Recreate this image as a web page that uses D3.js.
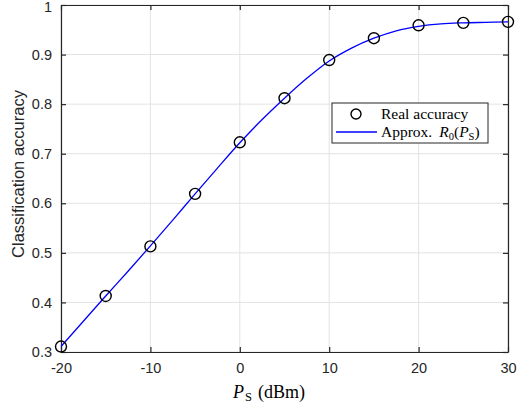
<!DOCTYPE html>
<html>
<head>
<meta charset="utf-8">
<script src="https://d3js.org/d3.v7.min.js"></script>
<style>
  body { margin: 0; background: #fff; }
  svg { display: block; }
  .tick text { font-family: "Liberation Sans", Arial, sans-serif; font-size: 14.5px; fill: #262626; }
</style>
</head>
<body>
<svg id="chart" width="517" height="415"></svg>
<script>
// measured points (P_S in dBm, accuracy)
var powerDbm = [-20, -15, -10, -5, 0, 5, 10, 15, 20, 25, 30];
var realAcc = [0.311, 0.413, 0.513, 0.619, 0.723, 0.812, 0.889, 0.933, 0.959, 0.964, 0.966];

// approximation curve
var approxX = [-20, -17.5, -15, -12.5, -10, -7.5, -5, -2.5, 0, 2.5, 5, 7.5, 10, 12.5, 15, 17.5, 20, 22.5, 25, 27.5, 30];
var approxY = [0.311, 0.362, 0.413, 0.463, 0.514, 0.566, 0.619, 0.671, 0.722, 0.769, 0.812, 0.852, 0.887, 0.913, 0.933, 0.948, 0.957, 0.962, 0.964, 0.965, 0.966];

var xTicks = [-20, -10, 0, 10, 20, 30];
var yTicks = [0.3, 0.4, 0.5, 0.6, 0.7, 0.8, 0.9, 1];

var serif = "'Liberation Serif', 'DejaVu Serif', serif";

var margin = {top: 5, right: 9, bottom: 63, left: 61},
    width = 517 - margin.left - margin.right,
    height = 415 - margin.top - margin.bottom;

var svg = d3.select("#chart");
var g = svg.append("g")
    .attr("transform", "translate(" + margin.left + "," + margin.top + ")");

var x = d3.scaleLinear().domain([-20, 30]).range([0, width]);
var y = d3.scaleLinear().domain([0.3, 1]).range([height, 0]);

// grid
g.selectAll(".vgrid").data(xTicks).enter().append("line")
    .attr("x1", d => x(d)).attr("x2", d => x(d))
    .attr("y1", 0).attr("y2", height)
    .attr("stroke", "#e3e3e3").attr("stroke-width", 1);
g.selectAll(".hgrid").data(yTicks).enter().append("line")
    .attr("y1", d => y(d)).attr("y2", d => y(d))
    .attr("x1", 0).attr("x2", width)
    .attr("stroke", "#e3e3e3").attr("stroke-width", 1);

// axes, ticks pointing inward
var fmtX = d => d;
var fmtY = d => d === 1 ? "1" : d3.format(".1f")(d);

g.append("g").attr("transform", "translate(0," + height + ")")
    .call(d3.axisBottom(x).tickValues(xTicks).tickFormat(fmtX).tickSizeInner(-5).tickSizeOuter(0).tickPadding(11));
var yAx = g.append("g")
    .call(d3.axisLeft(y).tickValues(yTicks).tickFormat(fmtY).tickSizeInner(-5).tickSizeOuter(0).tickPadding(9));
// keep the top label inside the picture
yAx.selectAll(".tick text").filter(d => d === 1).attr("y", 2);
g.append("g")
    .call(d3.axisTop(x).tickValues(xTicks).tickFormat("").tickSizeInner(-5).tickSizeOuter(0));
g.append("g").attr("transform", "translate(" + width + ",0)")
    .call(d3.axisRight(y).tickValues(yTicks).tickFormat("").tickSizeInner(-5).tickSizeOuter(0));

g.selectAll(".domain").attr("stroke", "#262626").attr("stroke-width", 1.2);
g.selectAll(".tick line").attr("stroke", "#262626").attr("stroke-width", 1.2);

// approximation curve
var approx = approxX.map((d, i) => [d, approxY[i]]);
g.append("path")
    .datum(approx)
    .attr("fill", "none")
    .attr("stroke", "#0000ff")
    .attr("stroke-width", 1.3)
    .attr("d", d3.line().x(d => x(d[0])).y(d => y(d[1])).curve(d3.curveMonotoneX));

// real accuracy markers
g.selectAll(".pt").data(powerDbm).enter().append("circle")
    .attr("cx", d => x(d))
    .attr("cy", (d, i) => y(realAcc[i]))
    .attr("r", 5.5)
    .attr("fill", "none")
    .attr("stroke", "#000")
    .attr("stroke-width", 1.4);

// y label
svg.append("text")
    .attr("transform", "translate(24,174) rotate(-90)")
    .attr("text-anchor", "middle")
    .attr("font-family", "Liberation Sans, Arial, sans-serif")
    .attr("font-size", 16.5)
    .attr("fill", "#262626")
    .text("Classification accuracy");

// x label
var xl = svg.append("text")
    .attr("x", 233)
    .attr("y", 398)
    .attr("font-family", serif)
    .attr("fill", "#000")
    .attr("font-size", 18);
xl.append("tspan").attr("font-style", "italic").text("P");
xl.append("tspan").attr("font-size", 12.5).attr("dy", 3).attr("dx", 1).text("S");
xl.append("tspan").attr("dy", -3).attr("dx", 6).text("(dBm)");

// legend
var lg = svg.append("g").attr("transform", "translate(332,103)");
lg.append("rect")
    .attr("width", 156).attr("height", 40)
    .attr("fill", "#fff").attr("stroke", "#262626").attr("stroke-width", 1);
lg.append("circle")
    .attr("cx", 24).attr("cy", 11).attr("r", 5)
    .attr("fill", "none").attr("stroke", "#000").attr("stroke-width", 1.4);
lg.append("line")
    .attr("x1", 4).attr("x2", 45).attr("y1", 29).attr("y2", 29)
    .attr("stroke", "#0000ff").attr("stroke-width", 1.3);
lg.append("text")
    .attr("font-family", serif).attr("fill", "#000")
    .attr("x", 49).attr("y", 16).attr("font-size", 15.5)
    .text("Real accuracy");
var t2 = lg.append("text")
    .attr("font-family", serif).attr("fill", "#000")
    .attr("x", 49).attr("y", 34).attr("font-size", 15.5);
t2.append("tspan").text("Approx.");
t2.append("tspan").attr("font-style", "italic").attr("dx", 7).text("R");
t2.append("tspan").attr("font-size", 10.5).attr("dy", 3).text("0");
t2.append("tspan").attr("dy", -3).text("(");
t2.append("tspan").attr("font-style", "italic").text("P");
t2.append("tspan").attr("font-size", 10.5).attr("dy", 3).text("S");
t2.append("tspan").attr("dy", -3).text(")");
</script>
</body>
</html>
